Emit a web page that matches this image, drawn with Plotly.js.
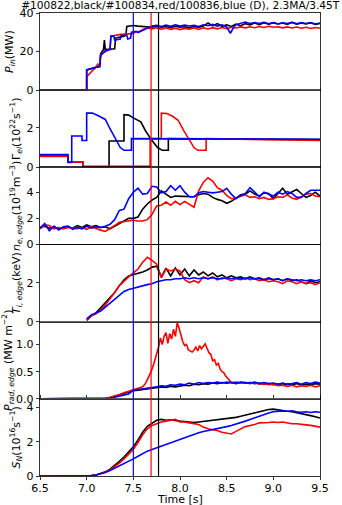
<!DOCTYPE html>
<html>
<head>
<meta charset="utf-8">
<script src="https://cdn.plot.ly/plotly-3.0.1.min.js"></script>
<style>
  html, body { margin: 0; padding: 0; background: #fff; }
  #chart { width: 342px; height: 505px; }
</style>
</head>
<body>
<div id="chart"></div>
<script>
// common time grid (s)
const tGrid = [6.50,6.55,6.60,6.65,6.70,6.75,6.80,6.85,6.90,6.95,7.00,7.05,7.10,7.15,7.20,7.25,7.30,7.35,7.40,7.45,
  7.50,7.55,7.60,7.65,7.70,7.75,7.80,7.85,7.90,7.95,8.00,8.05,8.10,8.15,8.20,8.25,8.30,8.35,8.40,8.45,
  8.50,8.55,8.60,8.65,8.70,8.75,8.80,8.85,8.90,8.95,9.00,9.05,9.10,9.15,9.20,9.25,9.30,9.35,9.40,9.45,9.50];

// shot markers (vertical lines): blue, red, black
const markerTimes = [7.50, 7.69, 7.77];
const markerColors = ['blue', 'red', 'black'];

// P_in (MW)
const pinBlackT = [6.5,7.0,7.0,7.05,7.12,7.14,7.15,7.18,7.19,7.2,7.3,7.31,7.4,7.42,7.43,
  7.5,7.55,7.6,7.65,7.7,7.75,7.8,7.85,7.9,7.95,8.0,8.05,8.1,8.15,8.2,8.25,8.3,8.35,8.4,8.45,
  8.5,8.55,8.6,8.65,8.7,8.75,8.8,8.85,8.9,8.95,9.0,9.05,9.1,9.15,9.2,9.25,9.3,9.35,9.4,9.45,9.5];
const pinBlackV = [0,0,10.5,11.2,12,12.5,19,21,26,21,21.5,27,28,28.5,33,
  33.5,33.2,33,32.5,32.6,33.2,32.6,33,32.4,33.1,32.6,32.9,32.3,33,32.5,33.2,34.8,33.3,34.5,33.1,
  33.9,33,34.2,33.4,34.5,33.8,34.8,34,35,34.2,35,34.3,34.8,34.1,35.2,34.2,34.8,34.3,35,34.1,34.6];
const pinRedT = [6.5,7.0,7.0,7.04,7.08,7.1,7.12,7.14,7.15,7.2,7.25,7.26,7.35,7.45,7.5,7.52,7.57,7.6,7.65,7.7,
  7.75,7.8,7.85,7.9,7.95,8.0,8.05,8.1,8.15,8.2,8.25,8.3,8.35,8.4,8.45,8.5,8.55,8.6,8.65,8.7,
  8.75,8.8,8.85,8.9,8.95,9.0,9.05,9.1,9.15,9.2,9.25,9.3,9.35,9.4,9.45,9.5];
const pinRedV = [0,0,7,9,10.5,12,13.5,12.5,18.5,20,21.5,28,28.8,29.2,29.4,30,30.5,31.5,32.3,31.8,
  32.4,31.6,32.2,31.5,32.1,31.4,32,31.6,32.2,31.5,32.3,31.7,32.4,31.8,32.5,31.9,32.6,32.2,32.8,32.3,
  32.9,32.4,33,32.5,33.1,32.6,32.9,32.3,32.8,32.2,32.7,32.1,32.6,32.0,32.5,32.1];
const pinBlueT = [6.5,7.0,7.0,7.05,7.12,7.14,7.15,7.2,7.25,7.26,7.29,7.3,7.36,7.37,7.43,7.44,7.47,7.48,7.53,7.55,
  7.6,7.65,7.7,7.75,7.8,7.85,7.9,7.95,8.0,8.05,8.1,8.15,8.2,8.25,8.3,8.35,8.4,8.45,8.5,8.54,
  8.57,8.6,8.65,8.7,8.75,8.8,8.85,8.9,8.95,9.0,9.05,9.1,9.15,9.2,9.25,9.3,9.35,9.4,9.45,9.5];
const pinBlueV = [0,0,10.5,11.2,12,12,18,20.5,21,28,28,26,26.5,28.5,28.5,26.5,27,30,30.5,29.8,
  31,32,33.2,33.6,33,33.7,33.1,33.9,33.2,33.7,33.3,33.6,33,33.9,33.4,34.1,33.2,33.9,32.8,29.5,
  32.2,34,34.8,35.3,34.6,35.1,34.5,35.2,34.4,35,34.3,34.9,34.5,35.1,34.4,35,34.6,34.9,34.3,34.8];

// Gamma_el (1e22 /s)
const gamBlackT = [6.5,6.8,6.8,6.96,6.96,7.24,7.24,7.4,7.4,7.45,7.5,7.58,7.63,7.7,7.76,7.81,7.875,7.875,9.5];
const gamBlackV = [0.57,0.57,0.27,0.27,0.03,0.03,1.33,1.33,2.66,2.64,2.5,2.3,1.85,1.35,1.0,0.86,0.86,1.45,1.4];
const gamRedT = [6.5,6.8,6.8,6.96,6.96,7.68,7.68,7.8,7.8,7.86,7.92,7.98,8.04,8.1,8.15,8.19,8.28,8.28,9.5];
const gamRedV = [0.55,0.55,0.27,0.27,0.05,0.05,1.45,1.45,2.74,2.72,2.58,2.38,1.85,1.4,1.0,0.86,0.86,1.45,1.36];
const gamBlueT = [6.5,6.8,6.8,6.84,6.84,6.95,6.95,7.0,7.0,7.06,7.12,7.2,7.25,7.3,7.36,7.4,7.48,7.48,9.5];
const gamBlueV = [0.64,0.64,0.25,0.25,1.58,1.58,1.36,1.36,2.74,2.74,2.62,2.42,1.95,1.5,1.0,0.86,0.86,1.45,1.42];

// n_e,edge (1e19 m^-3) on tGrid
const neBlack = [1.3,1.4,1.25,1.35,1.2,1.3,1.35,1.25,1.45,1.3,1.5,1.35,1.45,1.3,1.35,1.2,1.4,1.6,1.85,2.0,
  2.0,2.1,2.7,3.1,3.4,3.6,4.1,3.85,3.6,3.7,3.7,3.65,3.7,3.65,3.8,3.9,3.85,3.6,3.45,3.35,
  3.15,3.3,3.55,3.8,3.85,4.1,3.85,3.7,3.95,3.9,3.5,3.9,4.3,3.85,4.0,4.2,3.9,3.6,3.75,4.0,3.7];
const neRed = [1.2,1.5,1.45,1.2,1.3,1.2,1.3,1.25,1.2,1.3,1.15,1.35,1.2,1.1,1.0,1.2,1.45,1.7,1.75,1.8,
  1.85,1.8,1.8,1.9,2.3,2.95,3.0,3.25,3.0,3.3,3.05,3.3,3.1,2.85,4.1,4.75,5.1,4.85,4.35,4.15,
  3.75,3.5,3.55,3.7,3.8,3.6,3.65,3.5,3.6,3.45,3.5,3.65,3.6,3.8,3.55,3.45,3.65,3.85,3.9,3.7,3.65];
const neBlue = [1.25,1.6,1.05,1.4,1.1,1.35,1.4,1.15,1.3,1.2,1.4,1.25,1.35,1.3,1.4,1.55,1.9,2.6,2.7,3.5,
  4.0,4.3,3.85,3.9,4.45,4.4,3.95,4.05,4.5,4.15,4.5,4.0,3.65,3.65,3.95,4.05,4.0,3.95,4.0,4.05,
  4.3,3.85,3.5,3.75,3.9,4.35,4.0,3.65,4.0,3.85,3.7,4.0,3.85,4.05,3.9,3.6,3.6,3.9,4.15,4.15,4.15];

// T_i,edge (keV) on tGrid, no data before 7.0 s
const tiBlack = [null,null,null,null,null,null,null,null,null,null,
  0.07,0.3,0.45,0.7,0.95,1.2,1.5,1.85,2.15,2.35,2.42,2.45,2.55,2.65,2.8,2.85,2.3,2.75,2.35,2.75,
  2.4,2.7,2.35,2.65,2.4,2.55,2.35,2.5,2.3,2.4,2.25,2.35,2.25,2.3,2.2,2.3,2.2,2.25,2.15,2.25,
  2.15,2.2,2.1,2.2,2.1,2.15,2.05,1.95,2.1,2.0,2.05];
const tiRed = [null,null,null,null,null,null,null,null,null,null,
  0.1,0.3,0.4,0.6,0.85,1.15,1.5,1.85,2.1,2.3,2.5,2.7,3.05,3.3,3.15,2.95,2.25,2.7,2.6,2.7,
  2.6,2.15,2.0,2.1,2.0,2.3,2.2,2.3,2.15,2.25,2.2,2.1,2.2,2.15,2.25,2.15,2.2,2.1,2.15,2.05,
  2.1,2.05,1.95,2.1,2.05,1.95,2.05,1.95,2.0,1.9,2.0];
const tiBlue = [null,null,null,null,null,null,null,null,null,null,
  0.15,0.35,0.45,0.55,0.75,0.95,1.2,1.4,1.55,1.65,1.72,1.8,1.85,1.9,1.95,2.05,2.1,2.15,2.15,2.2,
  2.2,2.25,2.2,2.25,2.2,2.25,2.2,2.25,2.2,2.2,2.25,2.2,2.25,2.2,2.2,2.25,2.2,2.2,2.15,2.2,
  2.15,2.2,2.1,2.2,2.15,2.1,2.15,2.1,2.15,2.1,2.15];

// P_rad,edge (MW m^-2)
const pradBlack = [0,0,0,0,0,0,0,0,0,0,0,0,0,0,0.01,0.02,0.04,0.07,0.1,0.13,
  0.15,0.16,0.17,0.18,0.19,0.2,0.22,0.21,0.23,0.22,0.24,0.25,0.24,0.27,0.26,0.28,0.27,0.29,0.28,0.3,
  0.29,0.3,0.28,0.3,0.29,0.3,0.28,0.29,0.27,0.28,0.26,0.27,0.25,0.27,0.26,0.28,0.25,0.27,0.26,0.28,0.27];
const pradBlue = [0,0,0,0,0,0,0,0,0,0,0,0,0,0,0,0.01,0.03,0.05,0.07,0.09,
  0.16,0.17,0.19,0.2,0.21,0.22,0.24,0.23,0.26,0.25,0.27,0.26,0.29,0.27,0.3,0.28,0.3,0.29,0.31,0.29,
  0.31,0.3,0.29,0.31,0.3,0.29,0.31,0.28,0.3,0.28,0.29,0.27,0.29,0.27,0.28,0.3,0.27,0.3,0.28,0.31,0.29];
const pradRedT = [6.5,7.15,7.2,7.25,7.3,7.35,7.4,7.45,7.5,7.55,7.6,7.63,7.66,7.69,7.72,7.75,
  7.77,7.79,7.81,7.83,7.85,7.87,7.89,7.91,7.93,7.95,7.97,7.99,8.01,8.03,8.05,8.07,8.09,8.11,8.13,8.15,
  8.17,8.19,8.21,8.23,8.25,8.27,8.29,8.31,8.33,8.35,8.37,8.39,8.41,8.43,8.45,8.47,8.49,8.51,8.53,8.55,
  8.6,8.65,8.7,8.75,8.8,8.85,8.9,8.95,9.0,9.05,9.1,9.15,9.2,9.25,9.3,9.35,9.4,9.45,9.5];
const pradRedV = [0,0,0.01,0.03,0.05,0.08,0.11,0.14,0.17,0.2,0.22,0.28,0.38,0.5,0.65,0.82,
  0.95,1.12,1.0,1.15,1.22,1.02,1.2,1.1,1.28,1.15,1.4,1.3,1.18,1.05,0.98,1.0,0.9,0.88,0.86,0.9,
  0.95,0.88,0.98,0.92,0.97,1.01,0.93,0.85,0.82,0.7,0.72,0.62,0.65,0.55,0.5,0.48,0.42,0.38,0.33,0.3,
  0.31,0.29,0.3,0.28,0.3,0.27,0.28,0.26,0.27,0.24,0.25,0.23,0.25,0.22,0.24,0.23,0.25,0.22,0.24];

// S_N (1e16 /s) on tGrid
const snBlack = [0,0,0,0,0,0,0,0,0,0,0,0.02,0.06,0.13,0.24,0.4,0.6,0.85,1.1,1.4,
  1.7,2.1,2.55,2.9,3.1,3.25,3.3,3.25,3.28,3.22,3.2,3.18,3.15,3.12,3.15,3.18,3.2,3.25,3.3,3.32,
  3.35,3.38,3.42,3.48,3.55,3.62,3.7,3.75,3.8,3.88,3.9,3.85,3.82,3.78,3.75,3.7,3.65,3.6,3.52,3.45,3.38];
const snRed = [0,0,0,0,0,0,0,0,0,0,0,0.02,0.06,0.12,0.22,0.36,0.55,0.75,1.0,1.25,
  1.55,1.95,2.4,2.75,2.95,3.05,3.15,3.2,3.25,3.3,3.15,3.15,3.1,3.05,3.0,2.85,2.75,2.7,2.65,2.55,
  2.5,2.45,2.6,2.75,2.88,2.95,3.0,3.1,3.1,3.12,3.15,3.12,3.15,3.1,3.05,3.05,3.0,2.98,2.95,2.9,2.85];
const snBlue = [0,0,0,0,0,0,0,0,0,0,0,0.02,0.06,0.12,0.2,0.32,0.45,0.6,0.75,0.88,
  1.0,1.15,1.3,1.45,1.55,1.65,1.75,1.85,1.95,2.05,2.15,2.25,2.35,2.45,2.52,2.6,2.65,2.7,2.78,2.82,
  2.88,2.95,3.02,3.1,3.2,3.3,3.4,3.5,3.6,3.68,3.75,3.78,3.8,3.78,3.8,3.75,3.72,3.75,3.7,3.75,3.72];

const yLabels = [
  '<i>P<sub>in</sub></i>(MW)',
  'Γ<i><sub>el</sub></i>(10<sup>22</sup>s<sup>−1</sup>)',
  '<i>n<sub>e, edge</sub></i>(10<sup>19</sup>m<sup>−3</sup>)',
  '<i>T<sub>i, edge</sub></i>(keV)',
  '<i>P<sub>rad, edge</sub></i> (MW m<sup>−2</sup>)',
  '<i>S<sub>N</sub></i>(10<sup>16</sup>s<sup>−1</sup>)'
];
const yRanges = [[0, 40], [0, 3.9], [0, 5.9], [0, 3.96], [0, 1.42], [0, 4.5]];
const yTicks = [[0, 20, 40], [0, 2], [0, 2, 4], [0, 2], [0, 0.5, 1.0], [0, 2, 4]];
const zeroLinePanels = [1, 4, 5];

const font = 'DejaVu Sans, sans-serif';
const traces = [];
function addTrace(x, y, color, panel) {
  traces.push({
    x: x, y: y, type: 'scatter', mode: 'lines',
    xaxis: 'x', yaxis: panel === 1 ? 'y' : 'y' + panel,
    line: {color: color, width: 1.6},
    connectgaps: false, hoverinfo: 'skip', showlegend: false
  });
}

addTrace(pinBlackT, pinBlackV, 'black', 1);
addTrace(pinRedT, pinRedV, 'red', 1);
addTrace(pinBlueT, pinBlueV, 'blue', 1);
addTrace(gamBlackT, gamBlackV, 'black', 2);
addTrace(gamRedT, gamRedV, 'red', 2);
addTrace(gamBlueT, gamBlueV, 'blue', 2);
addTrace(tGrid, neBlack, 'black', 3);
addTrace(tGrid, neRed, 'red', 3);
addTrace(tGrid, neBlue, 'blue', 3);
addTrace(tGrid, tiBlack, 'black', 4);
addTrace(tGrid, tiRed, 'red', 4);
addTrace(tGrid, tiBlue, 'blue', 4);
addTrace(tGrid, pradBlack, 'black', 5);
addTrace(pradRedT, pradRedV, 'red', 5);
addTrace(tGrid, pradBlue, 'blue', 5);
addTrace(tGrid, snBlack, 'black', 6);
addTrace(tGrid, snRed, 'red', 6);
addTrace(tGrid, snBlue, 'blue', 6);

const layout = {
  width: 342, height: 505,
  margin: {l: 40, r: 22, t: 13, b: 29},
  paper_bgcolor: '#fff', plot_bgcolor: '#fff',
  font: {family: font, size: 11, color: '#000'},
  title: {
    text: '#100822,black/#100834,red/100836,blue (D), 2.3MA/3.45T',
    font: {family: font, size: 10.6, color: '#000'},
    x: 0.527, xanchor: 'center', y: 0.989, yanchor: 'middle'
  },
  xaxis: {
    range: [6.5, 9.5], anchor: 'y6',
    tickvals: [6.5, 7.0, 7.5, 8.0, 8.5, 9.0, 9.5], tickformat: '.1f',
    ticks: 'outside', ticklen: 3.5, tickwidth: 0.8, tickcolor: '#000',
    ticklabelstandoff: -2,
    showline: true, linecolor: '#000', linewidth: 0.8, mirror: 'all',
    showgrid: false, zeroline: false,
    tickfont: {family: font, size: 11}
  },
  annotations: [{
    text: 'Time [s]', xref: 'paper', yref: 'paper',
    x: 0.5, y: -0.05, xanchor: 'center', yanchor: 'middle',
    showarrow: false, font: {family: font, size: 11, color: '#000'}
  }],
  shapes: []
};

for (let i = 0; i < 6; i++) {
  const key = i === 0 ? 'yaxis' : 'yaxis' + (i + 1);
  layout[key] = {
    domain: [1 - (i + 1) / 6, 1 - i / 6],
    anchor: 'x',
    range: yRanges[i],
    tickvals: yTicks[i],
    tickformat: i === 4 ? '.1f' : '',
    ticks: 'outside', ticklen: 3.5, tickwidth: 0.8, tickcolor: '#000',
    showline: true, linecolor: '#000', linewidth: 0.8, mirror: true,
    showgrid: false, zeroline: false,
    tickfont: {family: font, size: 11},
    title: {text: yLabels[i], font: {family: font, size: 11}, standoff: 3}
  };
}

zeroLinePanels.forEach(p => {
  layout.shapes.push({
    type: 'line', xref: 'paper', yref: p === 1 ? 'y' : 'y' + p,
    x0: 0, x1: 1, y0: 0, y1: 0, layer: 'above',
    line: {color: '#888', width: 1}
  });
});

markerTimes.forEach((t, i) => {
  layout.shapes.push({
    type: 'line', xref: 'x', yref: 'paper',
    x0: t, x1: t, y0: 0, y1: 1, layer: 'above',
    line: {color: markerColors[i], width: 1.2}
  });
});

Plotly.newPlot('chart', traces, layout, {displayModeBar: false, staticPlot: true});
</script>
</body>
</html>
